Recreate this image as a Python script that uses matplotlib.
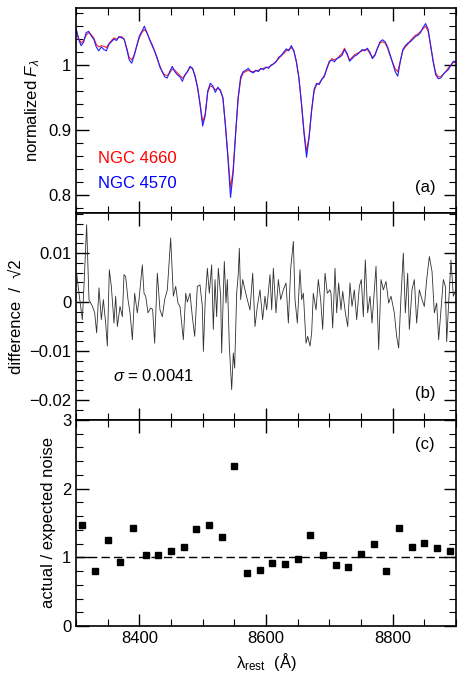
import numpy as np
import matplotlib
matplotlib.use("Agg")
import matplotlib.pyplot as plt
from matplotlib.ticker import MultipleLocator, FuncFormatter

plt.rcParams['font.family'] = ['Liberation Sans', 'DejaVu Sans']
plt.rcParams['mathtext.fontset'] = 'custom'
plt.rcParams['mathtext.rm'] = 'Liberation Sans'
plt.rcParams['mathtext.it'] = 'Liberation Sans:italic'

# ---------------- data ----------------
wave_start, wave_step = 8300, 4
flux_4570 = [1.057, 1.040, 1.030, 1.035, 1.050, 1.052, 1.045, 1.040, 1.028, 1.022,
             1.028, 1.024, 1.022, 1.032, 1.036, 1.040, 1.038, 1.044, 1.042, 1.040,
             1.025, 1.008, 1.003, 1.015, 1.030, 1.045, 1.052, 1.060, 1.050, 1.040,
             1.032, 1.022, 1.012, 0.998, 0.990, 0.982, 0.980, 0.990, 0.998, 0.990,
             0.985, 0.982, 0.975, 0.985, 0.990, 0.998, 0.995, 0.982, 0.965, 0.938,
             0.906, 0.922, 0.960, 0.972, 0.968, 0.958, 0.966, 0.960, 0.950, 0.905,
             0.855, 0.796, 0.832, 0.893, 0.950, 0.982, 0.990, 0.992, 0.995, 0.990,
             0.988, 0.992, 0.990, 0.995, 0.993, 0.997, 0.995, 1.000, 1.002, 1.005,
             1.012, 1.015, 1.020, 1.025, 1.022, 1.030, 1.022, 1.005, 0.980, 0.940,
             0.895, 0.858, 0.888, 0.930, 0.963, 0.972, 0.970, 0.978, 0.982, 0.995,
             1.006, 1.008, 1.005, 1.010, 1.012, 1.015, 1.024, 1.018, 1.006, 1.010,
             1.014, 1.016, 1.020, 1.024, 1.022, 1.026, 1.020, 1.010, 1.015, 1.026,
             1.036, 1.039, 1.036, 1.028, 1.016, 1.003, 0.990, 0.983, 1.005, 1.024,
             1.030, 1.034, 1.036, 1.040, 1.044, 1.046, 1.050, 1.058, 1.064, 1.055,
             1.030, 1.005, 0.985, 0.979, 0.980, 0.986, 0.990, 0.993, 1.000, 1.006,
             1.005]
flux_4660 = [1.055, 1.042, 1.034, 1.038, 1.046, 1.050, 1.047, 1.042, 1.032, 1.028,
             1.030, 1.029, 1.027, 1.033, 1.038, 1.042, 1.040, 1.043, 1.044, 1.040,
             1.027, 1.012, 1.008, 1.016, 1.030, 1.042, 1.050, 1.055, 1.050, 1.040,
             1.030, 1.022, 1.010, 1.000, 0.990, 0.985, 0.984, 0.988, 0.994, 0.992,
             0.988, 0.984, 0.980, 0.984, 0.990, 0.996, 0.995, 0.984, 0.966, 0.940,
             0.912, 0.925, 0.958, 0.968, 0.966, 0.962, 0.964, 0.962, 0.948, 0.908,
             0.860, 0.810, 0.838, 0.895, 0.948, 0.978, 0.988, 0.990, 0.992, 0.990,
             0.990, 0.991, 0.992, 0.994, 0.995, 0.996, 0.997, 0.999, 1.002, 1.006,
             1.010, 1.014, 1.018, 1.022, 1.024, 1.027, 1.022, 1.005, 0.980, 0.942,
             0.898, 0.867, 0.890, 0.930, 0.960, 0.970, 0.972, 0.978, 0.984, 0.994,
             1.004, 1.010, 1.008, 1.010, 1.014, 1.018, 1.026, 1.016, 1.008, 1.012,
             1.016, 1.018, 1.020, 1.022, 1.024, 1.024, 1.018, 1.012, 1.016, 1.026,
             1.034, 1.036, 1.034, 1.026, 1.014, 1.004, 0.994, 0.990, 1.006, 1.022,
             1.028, 1.032, 1.038, 1.042, 1.046, 1.048, 1.052, 1.056, 1.060, 1.052,
             1.030, 1.006, 0.988, 0.982, 0.982, 0.986, 0.990, 0.996, 1.000, 1.004,
             1.004]

diff_wave = [8301.0, 8304.7, 8310.0, 8312.6, 8316.8, 8320.5, 8323.2, 8325.8, 8329.5, 8332.6,
             8336.3, 8340.0, 8343.2, 8346.8, 8349.5, 8352.6, 8355.8, 8360.0, 8362.6, 8365.3,
             8369.5, 8373.2, 8375.8, 8378.4, 8382.1, 8385.3, 8389.0, 8392.6, 8396.8, 8399.5,
             8404.7, 8407.4, 8410.0, 8413.7, 8417.9, 8421.0, 8424.2, 8428.4, 8432.6, 8436.3,
             8440.0, 8444.2, 8449.5, 8453.7, 8457.4, 8461.0, 8464.2, 8469.5, 8473.2, 8475.8,
             8480.0, 8483.7, 8487.4, 8491.6, 8495.8, 8499.5,
             8501.1, 8504.2, 8507.4, 8510.5, 8514.2, 8516.8, 8519.5, 8522.1, 8524.7, 8528.4,
             8530.0, 8532.6, 8534.2, 8536.8, 8539.0, 8542.1, 8545.8, 8548.4, 8550.5, 8553.7,
             8556.3, 8557.9, 8560.0, 8563.2, 8566.8, 8570.5, 8574.7, 8579.0, 8582.6, 8586.3,
             8590.5, 8594.7, 8598.4, 8601.1, 8606.3, 8609.0, 8611.6, 8615.8, 8619.5, 8623.2,
             8627.4, 8631.6, 8635.3, 8639.0, 8643.2, 8645.8, 8649.5, 8653.7, 8656.3, 8659.0,
             8663.2, 8665.8, 8669.5, 8672.1, 8674.7, 8679.0, 8682.6, 8686.3, 8689.5, 8693.2,
             8696.8, 8701.0,
             8702.6, 8705.3, 8709.0, 8711.6, 8714.7, 8718.4, 8721.1, 8725.3, 8729.0, 8732.6,
             8735.8, 8739.5, 8743.2, 8747.4, 8750.5, 8753.7, 8756.8, 8760.5, 8764.2, 8767.4,
             8771.1, 8773.7, 8777.9, 8781.6, 8785.3, 8789.5, 8793.7, 8797.4, 8802.6, 8806.3,
             8809.5, 8813.2, 8816.8, 8820.0, 8823.7, 8826.3, 8830.5, 8834.2, 8837.9, 8842.1,
             8846.3, 8850.0, 8853.7, 8857.9, 8862.1, 8865.8, 8869.5, 8872.6, 8876.3, 8880.0,
             8883.2, 8885.3, 8888.4, 8892.1, 8895.8, 8900.0]
diff_val = [0.0059, 0.0018, -0.0036, 0.0033, 0.0158, 0.0005, -0.0002, -0.0008, -0.0022, -0.0063,
            0.0029, -0.0036, 0.0005, -0.0043, -0.0090, 0.0066, 0.0032, -0.0043, 0.0012, -0.0050,
            -0.0009, -0.0030, 0.0056, 0.0052, 0.0005, -0.0022, -0.0077, 0.0018, -0.0022, 0.0005,
            0.0076, 0.0018, 0.0012, -0.0022, -0.0012, -0.0015, -0.0084, 0.0059, -0.0016, -0.0030,
            0.0005, 0.0025, 0.0131, 0.0012, 0.0032, -0.0002, -0.0009, -0.0077, 0.0018, 0.0000,
            0.0018, -0.0030, -0.0070, 0.0032, 0.0035, -0.0009,
            -0.0101, 0.0008, 0.0069, 0.0018, 0.0076, -0.0056, 0.0046, -0.0030, 0.0069, 0.0012,
            -0.0104, 0.0018, 0.0083, -0.0002, 0.0046, -0.0090, -0.0179, -0.0104, -0.0135, 0.0018,
            0.0059, 0.0110, 0.0005, 0.0046, 0.0025, 0.0005, -0.0016, 0.0059, -0.0050, -0.0009,
            0.0025, -0.0036, 0.0012, -0.0016, 0.0056, -0.0016, 0.0069, -0.0022, 0.0046, 0.0005,
            0.0025, 0.0039, -0.0043, 0.0069, 0.0124, 0.0005, -0.0043, 0.0066, 0.0005, 0.0018,
            -0.0084, -0.0070, -0.0090, -0.0063, 0.0018, -0.0016, 0.0046, 0.0005, -0.0056, 0.0059,
            0.0018, 0.0025,
            0.0018, -0.0053, 0.0069, -0.0022, 0.0039, -0.0016, 0.0022, -0.0022, -0.0050, 0.0039,
            -0.0009, 0.0025, -0.0036, 0.0032, 0.0046, -0.0030, 0.0086, -0.0022, 0.0012, -0.0043,
            0.0025, 0.0073, -0.0097, 0.0046, 0.0025, 0.0042, -0.0002, 0.0012, -0.0022, -0.0070,
            -0.0094, 0.0012, 0.0100, -0.0022, 0.0059, -0.0056, 0.0025, 0.0046, -0.0043, 0.0025,
            0.0005, -0.0009, 0.0046, 0.0093, 0.0063, -0.0022, -0.0002, -0.0077, -0.0016, 0.0046,
            0.0032, -0.0081, -0.0002, 0.0086, 0.0012, 0.0025]

noise_wave = [8310, 8330, 8350, 8370, 8390, 8410, 8430, 8450, 8470, 8490,
              8510, 8530, 8550, 8570, 8590, 8610, 8630, 8650, 8670, 8690,
              8710, 8730, 8750, 8770, 8790, 8810, 8830, 8850, 8870, 8890]
noise_ratio = [1.475, 0.80, 1.248, 0.927, 1.427, 1.03, 1.034, 1.088, 1.146, 1.417,
               1.466, 1.296, 2.33, 0.767, 0.82, 0.917, 0.903, 0.971, 1.32, 1.039,
               0.884, 0.864, 1.053, 1.19, 0.796, 1.423, 1.146, 1.209, 1.14, 1.092]

galaxy_labels = ["NGC 4660", "NGC 4570"]
sigma_text = r"$\sigma$ = 0.0041"

# ---------------- figure ----------------
W, H = 463, 678
fig = plt.figure(figsize=(W / 100, H / 100), dpi=100)

def rect(top, bottom):
    return [76 / W, 1 - bottom / H, (456 - 76) / W, (bottom - top) / H]

axa = fig.add_axes(rect(8, 213))
axb = fig.add_axes(rect(213, 420), sharex=axa)
axc = fig.add_axes(rect(420, 626), sharex=axa)

wave = wave_start + wave_step * np.arange(len(flux_4570))
axa.plot(wave, flux_4660, color='#ff2020', lw=0.8)
axa.plot(wave, flux_4570, color='#2020ff', lw=0.8)
axa.set_ylim(0.772, 1.088)
axa.yaxis.set_major_locator(MultipleLocator(0.1))
axa.yaxis.set_minor_locator(MultipleLocator(0.02))
axa.yaxis.set_major_formatter(FuncFormatter(lambda v, p: f"{v:g}"))
axa.set_ylabel(r"normalized $F_{\lambda}$", fontsize=12)
axa.text(0.058, 0.268, galaxy_labels[0], color='#ff0000', fontsize=12,
         transform=axa.transAxes, va='center')
axa.text(0.058, 0.146, galaxy_labels[1], color='#0000ff', fontsize=12,
         transform=axa.transAxes, va='center')
axa.text(0.918, 0.122, "(a)", transform=axa.transAxes, fontsize=12, ha='center', va='center')

axb.plot(diff_wave, diff_val, color='#303030', lw=0.6)
axb.set_ylim(-0.0241, 0.0182)
axb.yaxis.set_major_locator(MultipleLocator(0.01))
axb.yaxis.set_minor_locator(MultipleLocator(0.002))
axb.yaxis.set_major_formatter(FuncFormatter(lambda v, p: "0" if abs(v) < 1e-9 else f"{v:g}".replace('-', '\u2212')))
axb.set_ylabel("difference  /  \u221a2", fontsize=12)
axb.text(0.097, 0.213, sigma_text, transform=axb.transAxes, fontsize=12, va='center')
axb.text(0.918, 0.13, "(b)", transform=axb.transAxes, fontsize=12, ha='center', va='center')

axc.plot(noise_wave, noise_ratio, 's', color='black', ms=4)
axc.axhline(1.0, color='black', lw=1.0, dashes=(6, 3))
axc.set_ylim(0, 3)
axc.yaxis.set_major_locator(MultipleLocator(1))
axc.yaxis.set_minor_locator(MultipleLocator(0.2))
axc.set_ylabel("actual / expected noise", fontsize=12)
axc.text(0.918, 0.88, "(c)", transform=axc.transAxes, fontsize=12, ha='center', va='center')

axc.set_xlim(8300, 8900)
axc.xaxis.set_major_locator(MultipleLocator(200))
axc.xaxis.set_minor_locator(MultipleLocator(50))
axc.set_xlabel("\u03bb$_{\\rm rest}$  (Å)", fontsize=12)

for ax in (axa, axb, axc):
    ax.tick_params(which='both', direction='in', top=True, right=True, labelsize=12)
    ax.tick_params(which='major', length=9, width=1.0)
    ax.tick_params(which='minor', length=5, width=0.8)
    for s in ax.spines.values():
        s.set_linewidth(1.2)
for ax in (axa, axb):
    ax.tick_params(labelbottom=False)

fig.savefig("out.png", dpi=100)
